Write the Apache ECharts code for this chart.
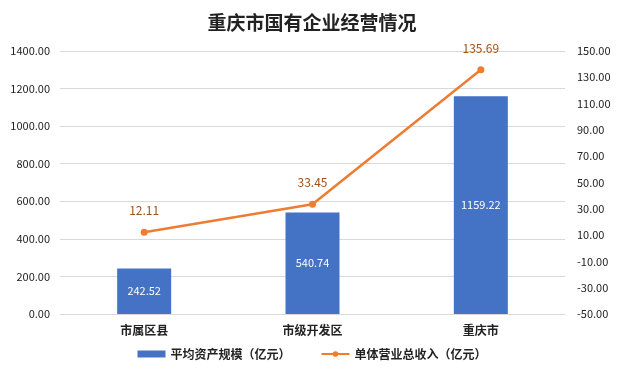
<!DOCTYPE html>
<html><head><meta charset="utf-8">
<script src="https://cdn.jsdelivr.net/npm/echarts@6/dist/echarts.min.js"></script>
<style>html,body{margin:0;padding:0;background:#fff}#c{width:624px;height:373px}</style>
</head><body><div id="c"></div>
<script>
const categories = ['市属区县', '市级开发区', '重庆市'];
const assetValues = [242.52, 540.74, 1159.22];
const revenueValues = [12.11, 33.45, 135.69];
const seriesNames = ['平均资产规模（亿元）', '单体营业总收入（亿元）'];
const titleText = '重庆市国有企业经营情况';

const font = '"Noto Sans CJK SC", "Liberation Sans", sans-serif';
const chart = echarts.init(document.getElementById('c'));
chart.setOption({
  animation: false,
  textStyle: { fontFamily: font },
  title: { text: titleText, left: 'center', top: 8,
    textStyle: { fontSize: 19, fontWeight: 'bold', color: '#222', fontFamily: font } },
  legend: { bottom: 8, left: 'center', itemGap: 30, itemWidth: 28, itemHeight: 7,
    textStyle: { fontSize: 12, fontWeight: 'bold', color: '#222' },
    data: [{ name: seriesNames[0], icon: 'rect' }, { name: seriesNames[1] }] },
  grid: { left: 60, right: 59, top: 51, bottom: 59 },
  xAxis: { type: 'category', data: categories,
    axisLine: { lineStyle: { color: '#d9d9d9' } }, axisTick: { show: false },
    axisLabel: { color: '#222', fontSize: 12, fontWeight: 'bold', margin: 10 } },
  yAxis: [
    { type: 'value', min: 0, max: 1400, interval: 200,
      axisLine: { show: false }, axisTick: { show: false },
      axisLabel: { color: '#222', fontSize: 11, margin: 10, formatter: v => v.toFixed(2) },
      splitLine: { lineStyle: { color: '#d9d9d9' } } },
    { type: 'value', min: -50, max: 150, interval: 20,
      axisLine: { show: false }, axisTick: { show: false },
      axisLabel: { color: '#222', fontSize: 11, margin: 12, formatter: v => v.toFixed(2) },
      splitLine: { show: false } }
  ],
  series: [
    { name: seriesNames[0], type: 'bar', data: assetValues, barWidth: 54,
      itemStyle: { color: '#4472C4' },
      label: { show: true, position: 'inside', color: '#fff', fontSize: 11, formatter: p => p.value.toFixed(2) } },
    { name: seriesNames[1], type: 'line', yAxisIndex: 1, data: revenueValues,
      symbol: 'circle', symbolSize: 7,
      lineStyle: { color: '#ED7D31', width: 2.5 }, itemStyle: { color: '#ED7D31' },
      label: { show: true, position: 'top', distance: 12, color: '#A0511A', fontSize: 12, formatter: p => p.value.toFixed(2) } }
  ]
});
</script></body></html>
